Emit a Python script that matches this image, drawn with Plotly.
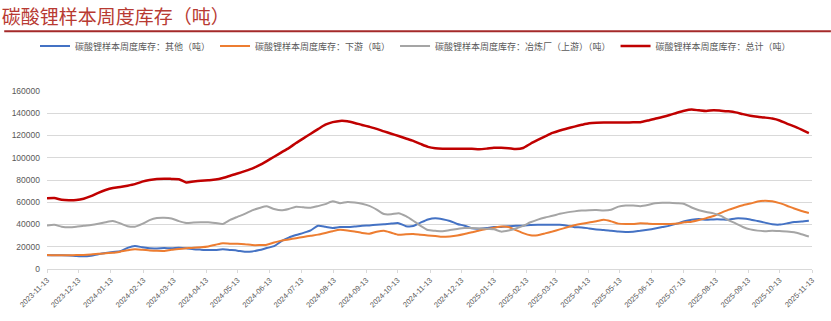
import pandas as pd
import plotly.graph_objects as go

# weekly sample dates
dates = pd.date_range("2023-11-13", periods=105, freq="7D")

other = [12.4, 12.4, 12.4, 12.2, 11.7, 11.4, 12.0, 13.3, 14.4, 15.3,
         16.0, 19.0, 20.6, 19.6, 18.6, 18.5, 18.8, 18.6, 19.0, 18.6,
         17.8, 17.4, 17.1, 17.1, 17.7, 17.1, 16.5, 15.6, 15.8, 17.0,
         18.8, 20.5, 25.0, 28.2, 30.5, 32.5, 34.8, 38.8, 38.0, 36.9,
         37.7, 37.7, 38.2, 38.9, 39.2, 39.7, 40.2, 40.8, 41.2, 38.5,
         38.6, 41.7, 44.5, 45.7, 44.8, 43.2, 40.5, 38.9, 36.5, 36.2,
         36.8, 37.7, 37.7, 38.4, 38.9, 38.9, 39.5, 39.7, 39.7, 39.7,
         39.7, 38.8, 37.6, 37.4, 36.5, 35.6, 35.1, 34.3, 33.6, 33.3,
         33.4, 34.4, 35.3, 36.4, 37.7, 39.0, 40.8, 43.0, 44.3, 44.9,
         44.2, 44.6, 44.6, 44.3, 45.5, 45.4, 44.5, 43.1, 41.7, 40.2,
         39.9, 41.0, 42.2, 42.7, 43.4]

downstream = [12.6, 12.4, 12.4, 12.4, 12.5, 12.6, 13.0, 13.6, 14.2, 14.6,
              15.6, 16.8, 17.7, 17.3, 16.7, 16.3, 16.2, 17.3, 18.0, 18.6,
              19.2, 19.6, 20.3, 21.8, 23.2, 22.8, 22.7, 22.3, 21.5, 21.5,
              21.9, 23.8, 25.5, 26.6, 27.7, 28.8, 29.9, 30.9, 32.4, 34.0,
              35.2, 34.7, 33.7, 32.4, 31.7, 33.5, 34.4, 32.6, 30.7, 31.2,
              31.4, 30.8, 30.2, 29.6, 28.9, 29.3, 30.1, 31.4, 33.0, 34.6,
              35.9, 37.0, 38.1, 37.8, 35.0, 32.2, 30.3, 30.4, 32.0, 33.7,
              35.6, 37.5, 39.3, 40.7, 41.9, 42.9, 44.2, 42.8, 40.8, 40.4,
              40.5, 41.1, 40.8, 40.5, 40.4, 40.5, 40.8, 42.0, 42.5, 44.0,
              45.7, 47.6, 50.4, 53.1, 55.3, 57.3, 58.8, 60.6, 61.3, 60.8,
              59.2, 56.9, 54.4, 52.2, 50.3]

smelter = [39.0, 39.7, 38.0, 37.5, 38.0, 38.9, 39.5, 40.6, 42.1, 43.2,
           41.0, 38.5, 38.0, 40.5, 43.9, 45.8, 46.1, 45.4, 43.0, 41.4,
           41.8, 42.0, 42.0, 41.3, 40.5, 44.2, 46.9, 49.5, 52.7, 54.8,
           56.3, 53.9, 52.7, 54.0, 56.0, 55.4, 55.0, 56.5, 58.3, 60.8,
           59.2, 60.3, 59.8, 58.6, 56.7, 53.4, 49.4, 49.2, 50.2, 47.5,
           43.4, 38.8, 35.0, 34.4, 33.9, 35.0, 36.0, 36.8, 36.8, 36.4,
           36.2, 35.7, 33.6, 34.6, 36.4, 38.8, 42.0, 44.4, 46.3, 47.8,
           49.6, 50.9, 51.8, 52.5, 52.9, 53.0, 52.6, 53.3, 56.1, 57.0,
           57.0, 56.5, 57.5, 59.0, 59.5, 59.5, 59.1, 58.5, 55.3, 52.8,
           51.2, 50.0, 47.7, 44.0, 41.0, 37.8, 35.6, 34.5, 34.0, 34.4,
           34.1, 33.7, 33.0, 31.2, 29.2]

total = [63.5, 63.8, 62.2, 61.8, 62.0, 63.2, 65.5, 68.5, 71.0, 72.8,
         73.8, 74.9, 76.3, 78.5, 80.0, 80.9, 81.2, 81.0, 80.7, 77.8,
         78.6, 79.3, 79.8, 80.4, 81.8, 83.8, 85.8, 88.0, 90.3, 93.3,
         97.0, 100.9, 104.8, 108.7, 113.2, 117.4, 121.6, 125.7, 129.7, 132.0,
         133.1, 132.8, 131.3, 129.5, 127.8, 126.0, 123.7, 121.6, 119.5, 117.3,
         115.1, 112.4, 109.8, 108.5, 108.1, 108.1, 108.1, 108.1, 108.1, 107.7,
         108.2, 109.0, 109.0, 108.6, 107.8, 108.8, 112.6, 116.0, 119.2, 122.3,
         124.5, 126.3, 128.0, 129.6, 131.0, 131.5, 131.6, 131.6, 131.6, 131.7,
         131.8, 132.0, 133.4, 135.0, 136.6, 138.4, 140.5, 142.3, 143.3, 142.6,
         142.0, 142.8, 142.3, 141.7, 140.8, 139.2, 137.8, 136.8, 136.1, 135.2,
         133.5, 130.7, 128.2, 125.3, 122.2]

series_names = ["碳酸锂样本周度库存：其他（吨）",
                "碳酸锂样本周度库存：下游（吨）",
                "碳酸锂样本周度库存：冶炼厂（上游）（吨）",
                "碳酸锂样本周度库存：总计（吨）"]

tick_dates = ["2023-11-13", "2023-12-13", "2024-01-13", "2024-02-13", "2024-03-13",
              "2024-04-13", "2024-05-13", "2024-06-13", "2024-07-13", "2024-08-13",
              "2024-09-13", "2024-10-13", "2024-11-13", "2024-12-13", "2025-01-13",
              "2025-02-13", "2025-03-13", "2025-04-13", "2025-05-13", "2025-06-13",
              "2025-07-13", "2025-08-13", "2025-09-13", "2025-10-13", "2025-11-13"]

colors = ["#4472C4", "#ED7D31", "#A5A5A5", "#C00000"]
widths = [2, 2, 2, 2.5]

fig = go.Figure()
for name, vals, c, w in zip(series_names, [other, downstream, smelter, total], colors, widths):
    fig.add_trace(go.Scatter(
        x=dates, y=[v * 1000 for v in vals], name=name, mode="lines",
        line=dict(color=c, width=w, shape="spline", smoothing=0.6),
    ))

fig.update_layout(
    width=831, height=321,
    margin=dict(l=43, r=19, t=91, b=50),
    paper_bgcolor="white", plot_bgcolor="white",
    font=dict(family="Liberation Sans, Noto Sans CJK SC, sans-serif", color="#595959"),
    title=dict(text="碳酸锂样本周度库存（吨）", x=0.002, xanchor="left",
               y=1 - 17 / 321, yanchor="middle", yref="container",
               font=dict(family="Noto Sans CJK SC", size=19, color="#B83A32")),
    legend=dict(orientation="h", xref="container", x=0.5, xanchor="center",
                yref="container", y=1 - 46 / 321, yanchor="middle",
                font=dict(family="Noto Sans CJK SC", size=9, color="#595959"),
                itemwidth=30, tracegroupgap=0, bgcolor="rgba(0,0,0,0)"),
    showlegend=True,
    shapes=[dict(type="line", xref="paper", yref="paper",
                 x0=-43 / 769, x1=788 / 769, y0=(271 - 30.5) / 180, y1=(271 - 30.5) / 180,
                 line=dict(color="#A52A2A", width=2))],
)
fig.update_xaxes(
    range=["2023-11-13", "2025-11-13"], tickvals=tick_dates, ticktext=tick_dates,
    tickangle=-45, tickfont=dict(size=7.5, color="#595959"),
    showgrid=False, showline=True, linecolor="#D9D9D9", linewidth=1,
    ticks="outside", ticklen=3, tickcolor="#D9D9D9", zeroline=False,
)
fig.update_yaxes(
    range=[0, 160000], dtick=20000, tickformat="d",
    tickfont=dict(size=8.5, color="#595959"),
    showgrid=True, gridcolor="#D9D9D9", gridwidth=1, zeroline=False, showline=False,
    ticks="", ticklabelstandoff=6,
)
fig.write_html("out.html")
